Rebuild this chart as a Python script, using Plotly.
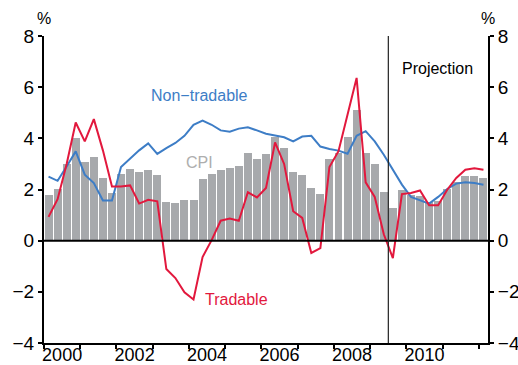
import plotly.graph_objects as go

# Quarterly observations, March quarter 2000 to March quarter 2012
first_year = 2000
n_quarters = 49
quarters = [f"{first_year + i // 4}Q{i % 4 + 1}" for i in range(n_quarters)]

# Year-ended inflation, per cent
cpi = [
    1.80, 2.03, 3.00, 4.02,
    3.08, 3.28, 2.46, 1.85,
    2.62, 2.79, 2.68, 2.76,
    2.55, 1.51, 1.49, 1.60,
    1.59, 2.41, 2.59, 2.75,
    2.83, 2.90, 3.41, 3.21,
    3.37, 4.04, 3.61, 2.67,
    2.58, 2.04, 1.82, 3.21,
    3.41, 4.07, 5.12, 3.41,
    3.01, 1.92, 1.26, 1.99,
    1.80, 1.76, 1.50, 1.57,
    2.02, 2.30, 2.51, 2.54,
    2.46,
]
non_tradable = [
    2.50, 2.34, 2.90, 3.49,
    2.58, 2.25, 1.57, 1.57,
    2.88, 3.20, 3.53, 3.80,
    3.39, 3.62, 3.82, 4.10,
    4.53, 4.69, 4.53, 4.31,
    4.26, 4.38, 4.43, 4.31,
    4.18, 4.11, 4.04, 3.88,
    4.07, 4.10, 3.68, 3.58,
    3.52, 3.40, 4.10, 4.28,
    3.88, 3.36, 2.77, 2.19,
    1.71, 1.58, 1.45, 1.71,
    2.02, 2.23, 2.28, 2.25,
    2.19,
]
tradable = [
    0.93, 1.62, 3.00, 4.62,
    3.88, 4.75, 3.53, 2.12,
    2.12, 2.16, 1.45, 1.60,
    1.54, -1.11, -1.46, -2.02,
    -2.30, -0.64, 0.02, 0.78,
    0.87, 0.78, 1.89, 1.69,
    2.06, 3.84, 3.00, 1.15,
    0.89, -0.48, -0.29, 2.88,
    3.50, 4.95, 6.36, 2.28,
    1.71, 0.25, -0.68, 1.82,
    1.86, 1.96, 1.38, 1.38,
    1.99, 2.45, 2.77, 2.83,
    2.77,
]

projection_start = 2009.5
y_ticks = [-4, -2, 0, 2, 4, 6, 8]
year_labels = [2000, 2002, 2004, 2006, 2008, 2010]


def quarter_midpoint(label):
    year, q = label.split("Q")
    return int(year) + (int(q) - 0.5) / 4


x = [quarter_midpoint(q) for q in quarters]

FONT = "Liberation Sans, Arial, Helvetica, sans-serif"
GREY = "#a7a9ac"
BLUE = "#3d7dc6"
RED = "#e2183d"

fig = go.Figure()
fig.add_trace(go.Bar(x=x, y=cpi, width=0.22, marker=dict(color=GREY, line=dict(width=0)),
                     name="CPI", showlegend=False))
fig.add_trace(go.Scatter(x=x, y=non_tradable, mode="lines", line=dict(color=BLUE, width=2),
                         name="Non-tradable", showlegend=False))
fig.add_trace(go.Scatter(x=x, y=tradable, mode="lines", line=dict(color=RED, width=2),
                         name="Tradable", showlegend=False))
# invisible point so the right-hand axis is drawn
fig.add_trace(go.Scatter(x=[x[0]], y=[0], yaxis="y2", mode="markers",
                         marker=dict(opacity=0), hoverinfo="skip", showlegend=False))

fig.add_shape(type="line", xref="paper", x0=0, x1=1, yref="y", y0=0, y1=0,
              line=dict(color="black", width=2), layer="above")
fig.add_shape(type="line", xref="x", x0=projection_start, x1=projection_start,
              yref="paper", y0=0, y1=1, line=dict(color="#222222", width=1.2), layer="above")

axis_font = dict(family=FONT, size=19, color="black")
yaxis_common = dict(
    range=[-4, 8], tickvals=y_ticks, ticks="outside", ticklen=4, tickwidth=1.5,
    tickcolor="black", showline=True, linecolor="black", linewidth=2,
    showgrid=False, zeroline=False, tickfont=axis_font, fixedrange=True,
    automargin=False,
)

fig.update_layout(
    width=518, height=365,
    margin=dict(l=44, r=30, t=36, b=22, autoexpand=False),
    paper_bgcolor="white", plot_bgcolor="white",
    bargap=0,
    xaxis=dict(
        range=[2000, 2012.25],
        tickvals=[y + 0.5 for y in year_labels], ticktext=[str(y) for y in year_labels],
        ticks="", showline=True, linecolor="black", linewidth=2,
        showgrid=False, zeroline=False, automargin=False,
        tickfont=dict(family=FONT, size=18, color="black"),
        ticklabelstandoff=-6,
        minor=dict(ticks="outside", tick0=2000, dtick=1, ticklen=4, tickwidth=1.5,
                   tickcolor="black", showgrid=False),
    ),
    yaxis=dict(side="left", **yaxis_common),
    yaxis2=dict(side="right", overlaying="y", **yaxis_common),
)

text_font = dict(family=FONT, size=16)
fig.add_annotation(x=2004.3, y=5.66, text="Non−tradable", showarrow=False,
                   font=dict(color=BLUE, **text_font))
fig.add_annotation(x=2004.3, y=3.05, text="CPI", showarrow=False,
                   font=dict(color="#aeaeae", **text_font))
fig.add_annotation(x=2005.3, y=-2.29, text="Tradable", showarrow=False,
                   font=dict(color=RED, **text_font))
fig.add_annotation(x=2010.85, y=6.72, text="Projection", showarrow=False,
                   font=dict(color="black", **text_font))
fig.add_annotation(xref="paper", yref="paper", x=0, y=1.0, yshift=7, xanchor="center",
                   yanchor="bottom", text="%", showarrow=False,
                   font=dict(color="black", **text_font))
fig.add_annotation(xref="paper", yref="paper", x=1, y=1.0, yshift=7, xanchor="center",
                   yanchor="bottom", text="%", showarrow=False,
                   font=dict(color="black", **text_font))

fig.write_html("out.html")
